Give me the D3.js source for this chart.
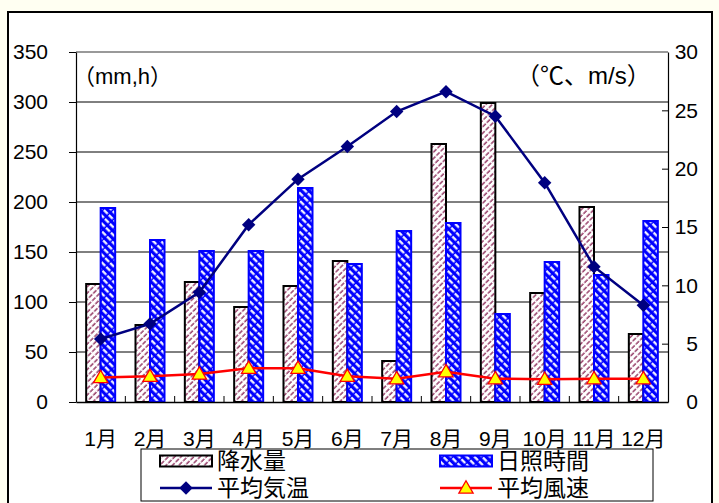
<!DOCTYPE html>
<html><head><meta charset="utf-8">
<script src="https://cdn.jsdelivr.net/npm/d3@7"></script>
<style>
html,body{margin:0;padding:0;background:#fffff2;}
svg{display:block;}
text{font-family:"Liberation Sans","Noto Sans CJK JP",sans-serif;fill:#000;}
</style></head>
<body>
<svg id="chart" width="719" height="503"></svg>
<script>
const months = ["1月","2月","3月","4月","5月","6月","7月","8月","9月","10月","11月","12月"];
const precipitation = [118,77,120,95,116,141,41,258,299,109,195,68];
const sunshine = [194,162,151,151,214,138,171,179,88,140,127,181];
const temperature = [5.4,6.7,9.4,15.2,19.1,21.9,24.9,26.6,24.5,18.8,11.6,8.3];
const windSpeed = [2.1,2.2,2.4,2.9,2.9,2.2,2.0,2.6,2.0,1.95,2.0,2.0];
const leftTicks = [0,50,100,150,200,250,300,350];
const rightTicks = [0,5,10,15,20,25,30];
const seriesNames = ["降水量","日照時間","平均気温","平均風速"];
const leftUnit = "（mm,h）";
const rightUnit = "（℃、m/s）";

const svg = d3.select("#chart");
const defs = svg.append("defs");

// patterns
const pr = defs.append("pattern").attr("id","pRed").attr("patternUnits","userSpaceOnUse")
  .attr("width",4.5).attr("height",6).attr("patternTransform","rotate(45)");
pr.append("rect").attr("width",4.5).attr("height",6).attr("fill","#fff");
pr.append("line").attr("x1",1).attr("y1",0).attr("x2",1).attr("y2",6)
  .attr("stroke","#8e2f5c").attr("stroke-width",1.4).attr("stroke-dasharray","4.5 1.5");
const pb = defs.append("pattern").attr("id","pBlue").attr("patternUnits","userSpaceOnUse")
  .attr("width",5.5).attr("height",7).attr("patternTransform","rotate(-45)");
pb.append("rect").attr("width",5.5).attr("height",7).attr("fill","#0000ff");
pb.append("line").attr("x1",1.5).attr("y1",0).attr("x2",1.5).attr("y2",7)
  .attr("stroke","#fff").attr("stroke-width",2.2).attr("stroke-dasharray","5.5 1.5");

// outer frame
svg.append("rect").attr("x",8).attr("y",12).attr("width",704).attr("height",520)
  .attr("fill","#fff").attr("stroke","#000").attr("stroke-width",2);

const L = 76, R = 668, T = 52, B = 402;
const x = d3.scaleBand().domain(months).range([L,R]).paddingInner(0.412).paddingOuter(0.206);
const xs = d3.scaleBand().domain(["p","s"]).range([0,x.bandwidth()]);
const yL = d3.scaleLinear().domain([0,350]).range([B,T]);
const yR = d3.scaleLinear().domain([0,30]).range([B,T]);

// gridlines
svg.append("g").selectAll("line").data(leftTicks.filter(d=>d>0 && d<350)).join("line")
  .attr("x1",L).attr("x2",R).attr("y1",d=>yL(d)).attr("y2",d=>yL(d))
  .attr("stroke","#000").attr("stroke-width",1);
svg.append("line").attr("x1",L).attr("x2",R).attr("y1",yL(350)).attr("y2",yL(350))
  .attr("stroke","#777").attr("stroke-width",1.5);

// axes
const gl = svg.append("g").attr("transform",`translate(${L},0)`)
  .call(d3.axisLeft(yL).tickValues(leftTicks).tickSizeInner(7).tickSizeOuter(0).tickPadding(21));
const gr = svg.append("g").attr("transform",`translate(${R},0)`)
  .call(d3.axisRight(yR).tickValues(rightTicks).tickSizeInner(-6).tickSizeOuter(0).tickPadding(30));
[gl,gr].forEach(g=>{
  g.select(".domain").attr("stroke","#000").attr("stroke-width",1.2);
  g.selectAll(".tick line").attr("stroke","#000");
  g.selectAll("text").attr("font-size",21).attr("font-family","Liberation Sans");
});
gr.selectAll("text").attr("text-anchor","end");
gr.selectAll(".tick").filter(d=>d===0||d===30).select("line").remove();

// bars
const grp = svg.append("g").selectAll("g").data(months).join("g")
  .attr("transform",d=>`translate(${x(d)},0)`);
grp.append("rect").attr("x",xs("p")).attr("width",xs.bandwidth())
  .attr("y",(d,i)=>yL(precipitation[i])).attr("height",(d,i)=>B-yL(precipitation[i]))
  .attr("fill","url(#pRed)").attr("stroke","#000").attr("stroke-width",2);
grp.append("rect").attr("x",xs("s")).attr("width",xs.bandwidth())
  .attr("y",(d,i)=>yL(sunshine[i])).attr("height",(d,i)=>B-yL(sunshine[i]))
  .attr("fill","url(#pBlue)").attr("stroke","#0000ff").attr("stroke-width",2);

// bottom axis
const gb = svg.append("g").attr("transform",`translate(0,${B})`)
  .call(d3.axisBottom(x).tickSize(0).tickPadding(29));
gb.select(".domain").attr("stroke","#000").attr("stroke-width",1.5);
gb.selectAll("text").attr("font-size",21);
svg.append("g").selectAll("line").data(months.slice(1)).join("line")
  .attr("x1",d=>x(d)-x.step()*x.paddingInner()/2).attr("x2",d=>x(d)-x.step()*x.paddingInner()/2)
  .attr("y1",B).attr("y2",B-6).attr("stroke","#000");

const cx = d=>x(d)+x.bandwidth()/2;
// wind line
svg.append("path").datum(months).attr("fill","none").attr("stroke","#ff0000").attr("stroke-width",2.5)
  .attr("d",d3.line().x(cx).y((d,i)=>yR(windSpeed[i])));
svg.append("g").selectAll("path").data(months).join("path")
  .attr("transform",(d,i)=>`translate(${cx(d)},${yR(windSpeed[i])+1})`)
  .attr("d",d3.symbol(d3.symbolTriangle,88)).attr("fill","#ffff00").attr("stroke","#ff0000").attr("stroke-width",1.3);
// temp line
svg.append("path").datum(months).attr("fill","none").attr("stroke","#000080").attr("stroke-width",2.5)
  .attr("d",d3.line().x(cx).y((d,i)=>yR(temperature[i])));
svg.append("g").selectAll("path").data(months).join("path")
  .attr("transform",(d,i)=>`translate(${cx(d)},${yR(temperature[i])}) rotate(45)`)
  .attr("d",d3.symbol(d3.symbolSquare,90)).attr("fill","#000080");

// unit labels
svg.append("text").attr("x",73).attr("y",76).attr("dy","0.35em").attr("font-size",22).text(leftUnit);
svg.append("text").attr("x",516).attr("y",76).attr("dy","0.35em").attr("font-size",24).text(rightUnit);

// legend
const lg = svg.append("g");
lg.append("rect").attr("x",141).attr("y",449).attr("width",512).attr("height",52)
  .attr("fill","#fff").attr("stroke","#000").attr("stroke-width",1);
const items = [
  {n:seriesNames[0],x:160,y:461,t:"bar",f:"url(#pRed)",s:"#000"},
  {n:seriesNames[1],x:440,y:461,t:"bar",f:"url(#pBlue)",s:"#0000ff"},
  {n:seriesNames[2],x:160,y:488,t:"temp"},
  {n:seriesNames[3],x:440,y:488,t:"wind"}
];
items.forEach(it=>{
  if(it.t==="bar"){
    lg.append("rect").attr("x",it.x).attr("y",it.y-5.5).attr("width",52).attr("height",11)
      .attr("fill",it.f).attr("stroke",it.s).attr("stroke-width",2);
  } else if(it.t==="temp"){
    lg.append("line").attr("x1",it.x).attr("x2",it.x+52).attr("y1",it.y).attr("y2",it.y)
      .attr("stroke","#000080").attr("stroke-width",2.5);
    lg.append("path").attr("transform",`translate(${it.x+26},${it.y}) rotate(45)`)
      .attr("d",d3.symbol(d3.symbolSquare,90)).attr("fill","#000080");
  } else {
    lg.append("line").attr("x1",it.x).attr("x2",it.x+52).attr("y1",it.y).attr("y2",it.y)
      .attr("stroke","#ff0000").attr("stroke-width",2.5);
    lg.append("path").attr("transform",`translate(${it.x+26},${it.y+1})`)
      .attr("d",d3.symbol(d3.symbolTriangle,88)).attr("fill","#ffff00").attr("stroke","#ff0000").attr("stroke-width",1.3);
  }
  lg.append("text").attr("x",it.x+57).attr("y",it.y).attr("dy","0.36em").attr("font-size",23)
    .attr("font-family","Noto Sans CJK JP").text(it.n);
});
</script>
</body></html>
